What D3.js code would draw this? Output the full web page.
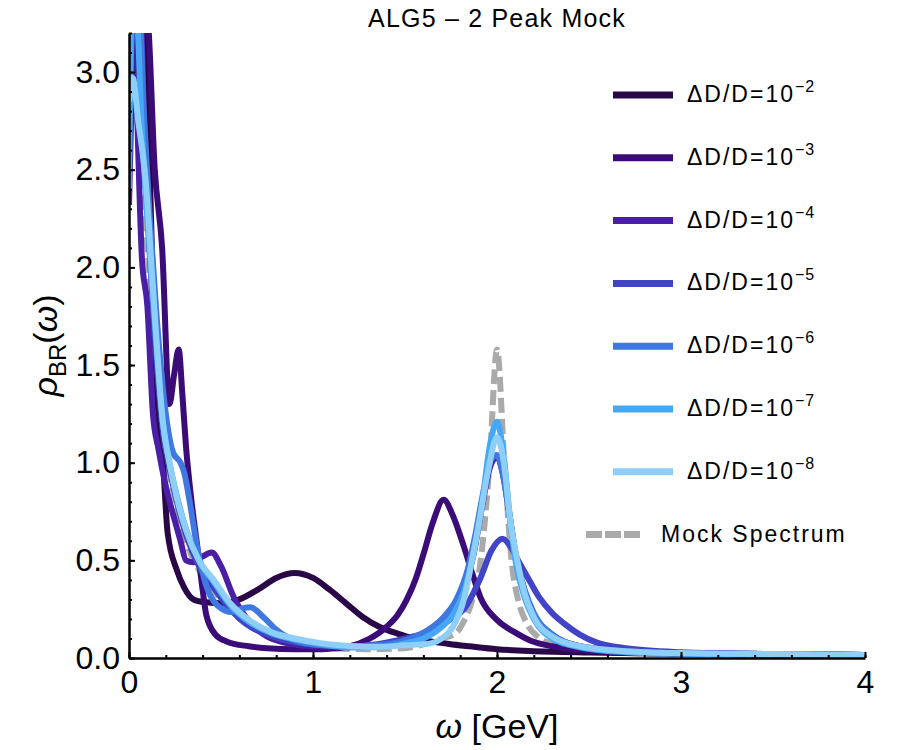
<!DOCTYPE html>
<html>
<head>
<meta charset="utf-8">
<script src="https://cdnjs.cloudflare.com/ajax/libs/d3/7.8.5/d3.min.js"></script>
<style>
  body { margin: 0; background: #fff; }
  text { font-family: "Liberation Sans", Arial, sans-serif; fill: #000; }
</style>
</head>
<body>
<svg id="chart" width="900" height="750"></svg>
<script>
// values: [omega, rho]
var mock = [[0,2.9],[0.05,2.7],[0.1,2.1],[0.15,1.45],[0.2,1.05],[0.26,0.78],[0.31,0.6],[0.4,0.42],[0.5,0.3],[0.6,0.2],[0.75,0.12],[0.9,0.08],[1.1,0.05],[1.3,0.045],[1.5,0.05],[1.6,0.07],[1.7,0.1],[1.78,0.13],[1.815,0.18],[1.86,0.28],[1.91,0.49],[1.96,1.0],[2.0,1.58],[2.04,1.0],[2.08,0.49],[2.12,0.28],[2.16,0.18],[2.22,0.11],[2.3,0.07],[2.45,0.04],[2.7,0.025],[3.0,0.02],[4.0,0.012]];

var dd2 = [[0,3.1],[0.04,3.6],[0.09,3.3],[0.11,2.6],[0.13,1.9],[0.15,1.4],[0.185,1.0],[0.21,0.64],[0.26,0.45],[0.3,0.36],[0.35,0.3],[0.42,0.285],[0.5,0.28],[0.6,0.3],[0.7,0.35],[0.8,0.41],[0.9,0.435],[1.0,0.41],[1.09,0.35],[1.18,0.28],[1.27,0.21],[1.36,0.16],[1.46,0.125],[1.55,0.1],[1.64,0.085],[1.74,0.072],[1.85,0.06],[2.0,0.045],[2.2,0.035],[2.5,0.028],[3.0,0.022],[3.5,0.018],[4.0,0.015]];

var dd3 = [[0,3.0],[0.04,3.5],[0.1,3.3],[0.14,2.5],[0.18,2.1],[0.22,1.3],[0.245,1.45],[0.27,1.58],[0.29,1.35],[0.31,1.08],[0.34,0.8],[0.37,0.58],[0.4,0.35],[0.42,0.22],[0.47,0.12],[0.53,0.085],[0.65,0.06],[0.75,0.05],[0.9,0.045],[1.05,0.045],[1.2,0.06],[1.3,0.095],[1.4,0.16],[1.46,0.22],[1.51,0.3],[1.56,0.41],[1.6,0.53],[1.65,0.69],[1.71,0.81],[1.76,0.73],[1.82,0.57],[1.87,0.42],[1.91,0.31],[2.0,0.195],[2.1,0.13],[2.18,0.09],[2.3,0.06],[2.45,0.04],[2.7,0.03],[3.0,0.025],[3.5,0.02],[4.0,0.015]];

var dd4 = [[0,2.32],[0.015,2.9],[0.03,3.3],[0.05,2.6],[0.07,2.05],[0.1,1.8],[0.13,1.25],[0.16,1.07],[0.2,0.88],[0.25,0.7],[0.28,0.6],[0.31,0.5],[0.35,0.49],[0.4,0.52],[0.45,0.54],[0.5,0.47],[0.57,0.31],[0.66,0.18],[0.75,0.11],[0.84,0.08],[1.0,0.06],[1.2,0.055],[1.4,0.065],[1.55,0.09],[1.65,0.13],[1.75,0.22],[1.82,0.35],[1.87,0.52],[1.92,0.78],[1.96,0.97],[2.0,1.03],[2.03,0.95],[2.07,0.72],[2.1,0.53],[2.15,0.34],[2.2,0.22],[2.3,0.12],[2.45,0.06],[2.7,0.035],[3.0,0.025],[3.5,0.02],[4.0,0.015]];

var dd5 = [[0,2.6],[0.02,3.3],[0.06,3.3],[0.09,2.5],[0.13,1.8],[0.185,1.15],[0.22,0.97],[0.26,0.8],[0.31,0.63],[0.38,0.47],[0.46,0.36],[0.55,0.25],[0.66,0.16],[0.78,0.11],[0.9,0.08],[1.05,0.065],[1.2,0.06],[1.35,0.07],[1.5,0.1],[1.64,0.14],[1.75,0.2],[1.82,0.25],[1.91,0.41],[1.97,0.55],[2.03,0.61],[2.08,0.56],[2.12,0.49],[2.18,0.39],[2.23,0.31],[2.3,0.23],[2.36,0.18],[2.45,0.12],[2.54,0.08],[2.7,0.05],[3.0,0.03],[3.5,0.02],[4.0,0.015]];

var dd6 = [[0,2.7],[0.02,3.3],[0.05,3.4],[0.08,2.8],[0.11,2.3],[0.15,1.75],[0.2,1.25],[0.24,1.05],[0.28,1.0],[0.3,0.95],[0.33,0.8],[0.37,0.57],[0.42,0.37],[0.48,0.27],[0.56,0.235],[0.62,0.255],[0.66,0.26],[0.73,0.21],[0.8,0.145],[0.9,0.09],[1.05,0.065],[1.2,0.06],[1.35,0.065],[1.5,0.09],[1.6,0.13],[1.7,0.2],[1.78,0.3],[1.84,0.45],[1.88,0.62],[1.93,0.87],[1.97,1.02],[2.0,1.04],[2.03,0.95],[2.07,0.72],[2.1,0.54],[2.15,0.35],[2.2,0.23],[2.3,0.12],[2.45,0.06],[2.7,0.035],[3.0,0.025],[3.5,0.02],[4.0,0.015]];

var dd7 = [[0,2.4],[0.015,3.3],[0.04,3.3],[0.07,2.7],[0.1,2.25],[0.13,1.85],[0.185,1.2],[0.22,1.0],[0.26,0.83],[0.31,0.66],[0.38,0.5],[0.46,0.39],[0.55,0.27],[0.66,0.18],[0.78,0.125],[0.9,0.095],[1.05,0.07],[1.2,0.055],[1.35,0.055],[1.5,0.075],[1.6,0.1],[1.7,0.16],[1.76,0.22],[1.82,0.34],[1.87,0.52],[1.92,0.8],[1.96,1.08],[2.0,1.21],[2.04,1.0],[2.07,0.72],[2.1,0.5],[2.15,0.31],[2.2,0.2],[2.3,0.1],[2.45,0.055],[2.7,0.03],[3.0,0.022],[3.5,0.018],[4.0,0.015]];

var dd8 = [[0,2.85],[0.02,2.97],[0.05,2.75],[0.09,2.45],[0.13,1.9],[0.185,1.2],[0.22,1.0],[0.26,0.82],[0.31,0.655],[0.38,0.5],[0.46,0.4],[0.55,0.28],[0.66,0.19],[0.78,0.13],[0.9,0.1],[1.05,0.075],[1.2,0.062],[1.36,0.057],[1.5,0.065],[1.64,0.075],[1.7,0.1],[1.76,0.16],[1.82,0.3],[1.86,0.48],[1.9,0.68],[1.95,0.95],[2.0,1.13],[2.04,0.98],[2.07,0.72],[2.11,0.5],[2.15,0.33],[2.2,0.21],[2.3,0.11],[2.45,0.06],[2.7,0.035],[3.0,0.025],[3.5,0.02],[4.0,0.015]];

var exponents = ["\u22122","\u22123","\u22124","\u22125","\u22126","\u22127","\u22128"];
var colors = ["#2a0847","#3b0c78","#4a1ea5","#4244c8","#3e78e0","#46a8f5","#8ecffa"];
var seriesData = [dd2, dd3, dd4, dd5, dd6, dd7, dd8];

var xMajor = [0, 1, 2, 3, 4];
var yMajor = [0, 0.5, 1, 1.5, 2, 2.5, 3];

var svg = d3.select("#chart");

var x = d3.scaleLinear().domain([0, 4]).range([129, 865]);
var y = d3.scaleLinear().domain([0, 3.2]).range([658, 33]);

svg.append("defs").append("clipPath").attr("id", "plotclip")
    .append("rect")
    .attr("x", x(0)).attr("y", y(3.2))
    .attr("width", x(4) - x(0)).attr("height", y(0) - y(3.2));

var line = d3.line()
    .x(function (d) { return x(d[0]); })
    .y(function (d) { return y(d[1]); })
    .curve(d3.curveMonotoneX);

var plot = svg.append("g").attr("clip-path", "url(#plotclip)");

// mock spectrum sits underneath
plot.append("path")
    .datum(mock)
    .attr("d", line)
    .attr("fill", "none")
    .attr("stroke", "#aaaaaa")
    .attr("stroke-width", 6)
    .attr("stroke-dasharray", "15,6");

seriesData.forEach(function (s, i) {
    plot.append("path")
        .datum(s)
        .attr("d", line)
        .attr("fill", "none")
        .attr("stroke", colors[i])
        .attr("stroke-width", 6)
        .attr("stroke-linejoin", "round");
});

// axes, ticks pointing inward
var xMinor = d3.range(0, 4.01, 0.2);
var yMinor = d3.range(0, 3.21, 0.1);

svg.append("g")
    .attr("transform", "translate(0," + y(0) + ")")
    .call(d3.axisBottom(x).tickValues(xMinor).tickSize(-3).tickSizeOuter(0).tickFormat(""))
    .call(function (g) { g.select(".domain").remove(); g.selectAll("line").attr("stroke-width", 2); });

svg.append("g")
    .attr("transform", "translate(" + x(0) + ",0)")
    .call(d3.axisLeft(y).tickValues(yMinor).tickSize(-3).tickSizeOuter(0).tickFormat(""))
    .call(function (g) { g.select(".domain").remove(); g.selectAll("line").attr("stroke-width", 2); });

var xAxis = svg.append("g")
    .attr("transform", "translate(0," + y(0) + ")")
    .call(d3.axisBottom(x).tickValues(xMajor).tickSize(-6).tickSizeOuter(0).tickPadding(12).tickFormat(d3.format("d")));
xAxis.select(".domain").attr("stroke-width", 2.5);
xAxis.selectAll("line").attr("stroke-width", 2);
xAxis.selectAll("text").style("font-size", "32px").style("font-family", "'Liberation Sans', Arial, sans-serif").attr("fill", "#000");

var yAxis = svg.append("g")
    .attr("transform", "translate(" + x(0) + ",0)")
    .call(d3.axisLeft(y).tickValues(yMajor).tickSize(-6).tickSizeOuter(0).tickPadding(9).tickFormat(d3.format(".1f")));
yAxis.select(".domain").attr("stroke-width", 2.5);
yAxis.selectAll("line").attr("stroke-width", 2);
yAxis.selectAll("text").style("font-size", "32px").style("font-family", "'Liberation Sans', Arial, sans-serif").attr("fill", "#000");

// title + axis titles
svg.append("text")
    .attr("x", (x(0) + x(4)) / 2).attr("y", 27)
    .attr("text-anchor", "middle")
    .style("font-size", "25px")
    .style("letter-spacing", "1.2px")
    .text("ALG5 \u2013 2 Peak Mock");

var xt = svg.append("text")
    .attr("x", (x(0) + x(4)) / 2).attr("y", 738)
    .attr("text-anchor", "middle")
    .style("font-size", "34px");
xt.append("tspan").style("font-style", "italic").text("\u03c9");
xt.append("tspan").text(" [GeV]");

var yt = svg.append("text")
    .attr("transform", "translate(57," + y(1.6) + ") rotate(-90)")
    .attr("text-anchor", "middle")
    .style("font-size", "34px");
yt.append("tspan").style("font-style", "italic").text("\u03c1");
yt.append("tspan").attr("dy", 9).style("font-size", "24px").text("BR");
yt.append("tspan").attr("dy", -9).text("(");
yt.append("tspan").style("font-style", "italic").text("\u03c9");
yt.append("tspan").text(")");

// legend
var legend = svg.append("g");
exponents.forEach(function (e, i) {
    var ly = 95 + i * 62.8;
    legend.append("line")
        .attr("x1", 613).attr("x2", 673)
        .attr("y1", ly).attr("y2", ly)
        .attr("stroke", colors[i])
        .attr("stroke-width", 7);
    var t = legend.append("text")
        .attr("x", 687).attr("y", ly + 7)
        .style("font-size", "23px")
        .style("letter-spacing", "2px");
    t.append("tspan").text("\u0394D/D=10");
    t.append("tspan").attr("dy", -10).style("font-size", "16px").style("letter-spacing", "1px").text(e);
});
var my = 95 + 7 * 62.8;
legend.append("line")
    .attr("x1", 586).attr("x2", 641)
    .attr("y1", my).attr("y2", my)
    .attr("stroke", "#aaaaaa")
    .attr("stroke-width", 7)
    .attr("stroke-dasharray", "16,3");
legend.append("text")
    .attr("x", 661).attr("y", my + 7)
    .style("font-size", "23px")
    .style("letter-spacing", "2px")
    .text("Mock Spectrum");
</script>
</body>
</html>
